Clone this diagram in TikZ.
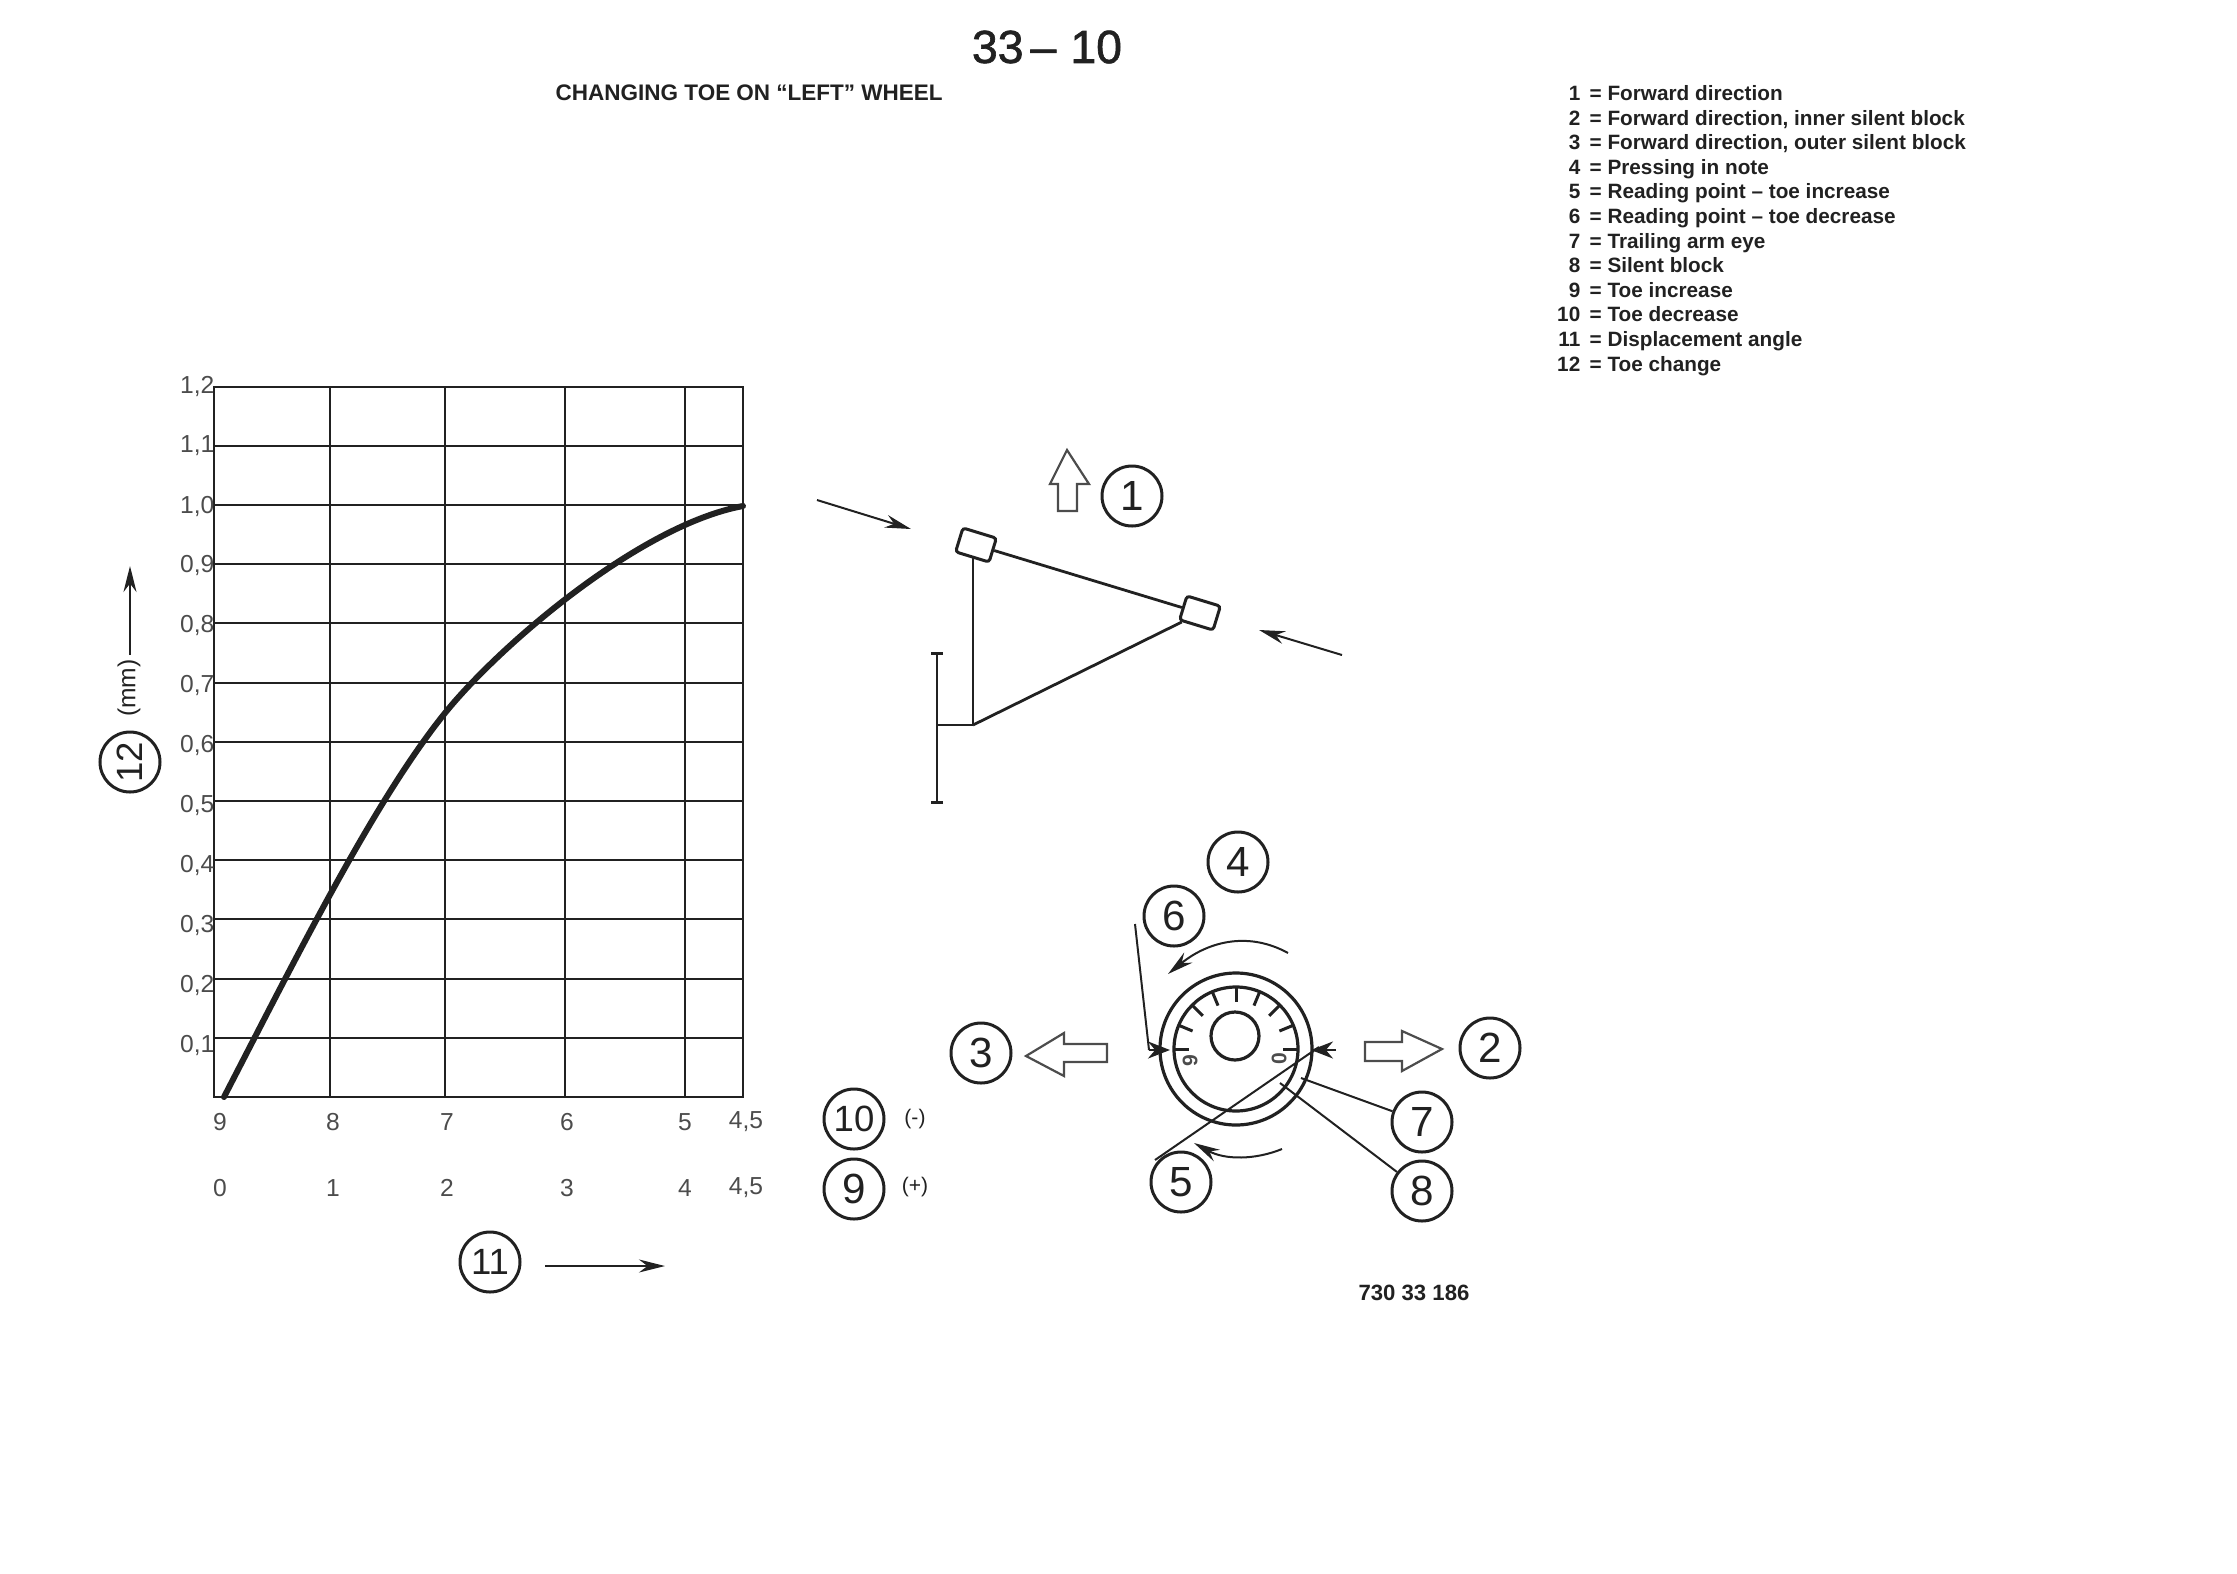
\documentclass[tikz,border=0pt]{standalone}
\usepackage{fontspec}
\setmainfont{Liberation Sans}
\newfontfamily\pagefont[FakeBold=1.4]{Liberation Sans}
\usetikzlibrary{arrows.meta}

\definecolor{ink}{gray}{0.13}
\definecolor{scaleink}{gray}{0.3}
\tikzset{
  numcirc/.style={draw=ink, circle, line width=0.3mm, minimum size=6mm, inner sep=0pt,
    text=ink, font=\fontsize{12}{12}\selectfont},
  numcircw/.style={numcirc, font=\fontsize{10.4}{12}\selectfont},
  ticklab/.style={text=scaleink, inner sep=0pt, font=\fontsize{7}{8}\selectfont},
  signlab/.style={text=ink, inner sep=0pt, font=\fontsize{6}{7}\selectfont},
  dialab/.style={text=scaleink, inner sep=0pt, rotate=90, font=\fontsize{6}{6}\selectfont\bfseries},
  legend/.style={text=ink, inner sep=0pt, font=\fontsize{5.9}{6}\selectfont\bfseries},
  bush/.style={draw=ink, line width=0.3mm, fill=white, inner sep=0pt, rounded corners=0.3mm,
    minimum width=3.5mm, minimum height=2.5mm, rotate=-17},
  part/.style={draw=ink, line width=0.28mm},
  lead/.style={draw=ink, line width=0.2mm},
  hollow/.style={draw=scaleink, line width=0.22mm, line join=miter},
  arr/.style={draw=ink, line width=0.2mm, -{Stealth[length=2.6mm,width=1.3mm]}},
  pointer/.style={draw=ink, line width=0.25mm, -{Stealth[length=2.2mm,width=1.7mm]}}
}

\begin{document}
\begin{tikzpicture}[x=0.1mm, y=-0.1mm]
  \useasboundingbox (0,0) rectangle (2237,1574);

  \node [text=ink, inner sep=0pt, font=\fontsize{13.2}{14}\pagefont] (pageno) at (1047,47) {33\kern2pt–\kern4pt10};
  \node [text=ink, inner sep=0pt, font=\fontsize{6.4}{7}\selectfont\bfseries, anchor=base west] (heading) at (555,100)
    {CHANGING TOE ON ``LEFT'' WHEEL};

  % key to the numbers
  \foreach \n/\txt [count=\k from 0] in {1/Forward direction, 2/{Forward direction, inner silent block},
      3/{Forward direction, outer silent block}, 4/Pressing in note, 5/Reading point -- toe increase,
      6/Reading point -- toe decrease, 7/Trailing arm eye, 8/Silent block, 9/Toe increase,
      10/Toe decrease, 11/Displacement angle, 12/Toe change} {
    \node [legend, anchor=base east] (keyn\n) at (1581,{100.5+24.6*\k}) {\n};
    \node [legend, anchor=base west] (keyt\n) at (1589,{100.5+24.6*\k}) {= \txt};
  }

  % chart
  \foreach \k in {1,...,11}
    \draw [ink, line width=0.2mm] (214,{1097-59.2*\k}) -- (743,{1097-59.2*\k});
  \foreach \x in {330,445,565,685}
    \draw [ink, line width=0.25mm] (\x,387) -- (\x,1097);
  \draw [ink, line width=0.25mm] (214,387) rectangle (743,1097);
  \draw [ink, line width=0.6mm, line cap=round] (224,1097)
    .. controls (300,950) and (375,800) .. (445,713)
    .. controls (500,645) and (640,525) .. (743,506);

  \foreach \lab/\k in {{0,1}/1, {0,2}/2, {0,3}/3, {0,4}/4, {0,5}/5, {0,6}/6, {0,7}/7, {0,8}/8, {0,9}/9,
      {1,0}/10, {1,1}/11, {1,2}/12}
    \node [ticklab, anchor=east] (ylab\k) at (215,{1105-59.9*\k}) {\lab};

  \foreach \top/\bot/\x/\k in {9/0/220/1, 8/1/333/2, 7/2/447/3, 6/3/567/4, 5/4/685/5, {4,5}/{4,5}/746/6} {
    \node [ticklab] (xtop\k) at (\x,1122) {\top};
    \node [ticklab] (xbot\k) at (\x,1188) {\bot};
  }

  \node [numcircw] (c10) at (854,1119) {10};
  \node [numcirc] (c9) at (854,1189) {9};
  \node [signlab] (minus) at (915,1119) {(-)};
  \node [signlab] (plus) at (915,1187) {(+)};

  \node [numcircw] (c11) at (490,1262) {11};
  \coordinate (xarrowa) at (545,1266);
  \coordinate (xarrowb) at (665,1266);
  \draw [arr] (xarrowa) -- (xarrowb);

  \node [numcircw, rotate=90] (c12) at (130,762) {12};
  \node [signlab, rotate=90, font=\fontsize{7}{7}\selectfont] (mm) at (129,688) {(mm)};
  \coordinate (yarrowa) at (130,655);
  \coordinate (yarrowb) at (130,566);
  \draw [arr] (yarrowa) -- (yarrowb);

  % trailing arm
  \node [bush] (bushl) at (976,545) {};
  \node [bush] (bushr) at (1200,613) {};
  \coordinate (joint) at (973,725);
  \coordinate (hub) at (937,725);
  \coordinate (wheelt) at (937,652);
  \coordinate (wheelb) at (937,804);
  \draw [part] (bushl) -- (bushr);
  \draw [part] (joint) -- (973,558);
  \draw [part] (joint) -- (bushr);
  \draw [part] (hub) -- (joint);
  \draw [part, {Bar[width=1.2mm]}-{Bar[width=1.2mm]}] (wheelt) -- (wheelb);

  \coordinate (pressla) at (817,500);
  \coordinate (presslb) at (911,529);
  \coordinate (pressra) at (1342,655);
  \coordinate (pressrb) at (1259,630);
  \draw [arr] (pressla) -- (presslb);
  \draw [arr] (pressra) -- (pressrb);

  \draw [hollow] (1067,450) -- (1089,484) -- (1077,484) -- (1077,511) -- (1058,511) -- (1058,484) -- (1050,484) -- cycle;
  \node [numcirc] (c1) at (1132,496) {1};

  % dial
  \coordinate (dial) at (1236,1049);
  \coordinate (hole) at (1235,1036);
  \draw [ink, line width=0.32mm] (dial) circle [radius=76];
  \draw [ink, line width=0.32mm] (dial) circle [radius=62];
  \draw [ink, line width=0.32mm] (hole) circle [radius=24];
  \foreach \k in {0,...,8}
    \draw [ink, line width=0.3mm] (dial) ++({180+\k*22.5}:62) -- ++({180+\k*22.5}:-15);
  \node [dialab] (dialnine) at (1190,1061) {9};
  \node [dialab] (dialzero) at (1279,1059) {0};

  \draw [hollow] (1026,1056) -- (1064,1033) -- (1064,1044) -- (1107,1044) -- (1107,1062) -- (1064,1062) -- (1064,1076) -- cycle;
  \draw [hollow] (1442,1049) -- (1402,1031) -- (1402,1042) -- (1365,1042) -- (1365,1061) -- (1402,1061) -- (1402,1071) -- cycle;

  \draw [arr] (1288,953) .. controls (1250,932) and (1210,940) .. (1168,974);
  \draw [arr] (1282,1149) .. controls (1255,1160) and (1225,1160) .. (1194,1143);

  \node [numcirc] (c2) at (1490,1048) {2};
  \node [numcirc] (c3) at (981,1053) {3};
  \node [numcirc] (c4) at (1238,862) {4};
  \node [numcirc] (c5) at (1181,1182) {5};
  \node [numcirc] (c6) at (1174,916) {6};
  \node [numcirc] (c7) at (1422,1122) {7};
  \node [numcirc] (c8) at (1422,1191) {8};

  \coordinate (readla) at (1135,924);
  \coordinate (readlb) at (1149,1050);
  \coordinate (readlc) at (1170,1050);
  \coordinate (readra) at (1336,1050);
  \coordinate (readrb) at (1311,1050);
  \coordinate (reada) at (1155,1160);
  \coordinate (readb) at (1319,1047);
  \coordinate (eye) at (1301,1078);
  \coordinate (block) at (1280,1083);
  \draw [lead] (readla) -- (readlb);
  \draw [pointer] (readlb) -- (readlc);
  \draw [pointer] (readra) -- (readrb);
  \draw [lead] (reada) -- (readb);
  \draw [lead] (c7) -- (eye);
  \draw [lead] (c8) -- (block);

  \node [text=ink, inner sep=0pt, font=\fontsize{6.3}{7}\selectfont\bfseries] (partno) at (1414,1293) {730 33 186};
\end{tikzpicture}
\end{document}
